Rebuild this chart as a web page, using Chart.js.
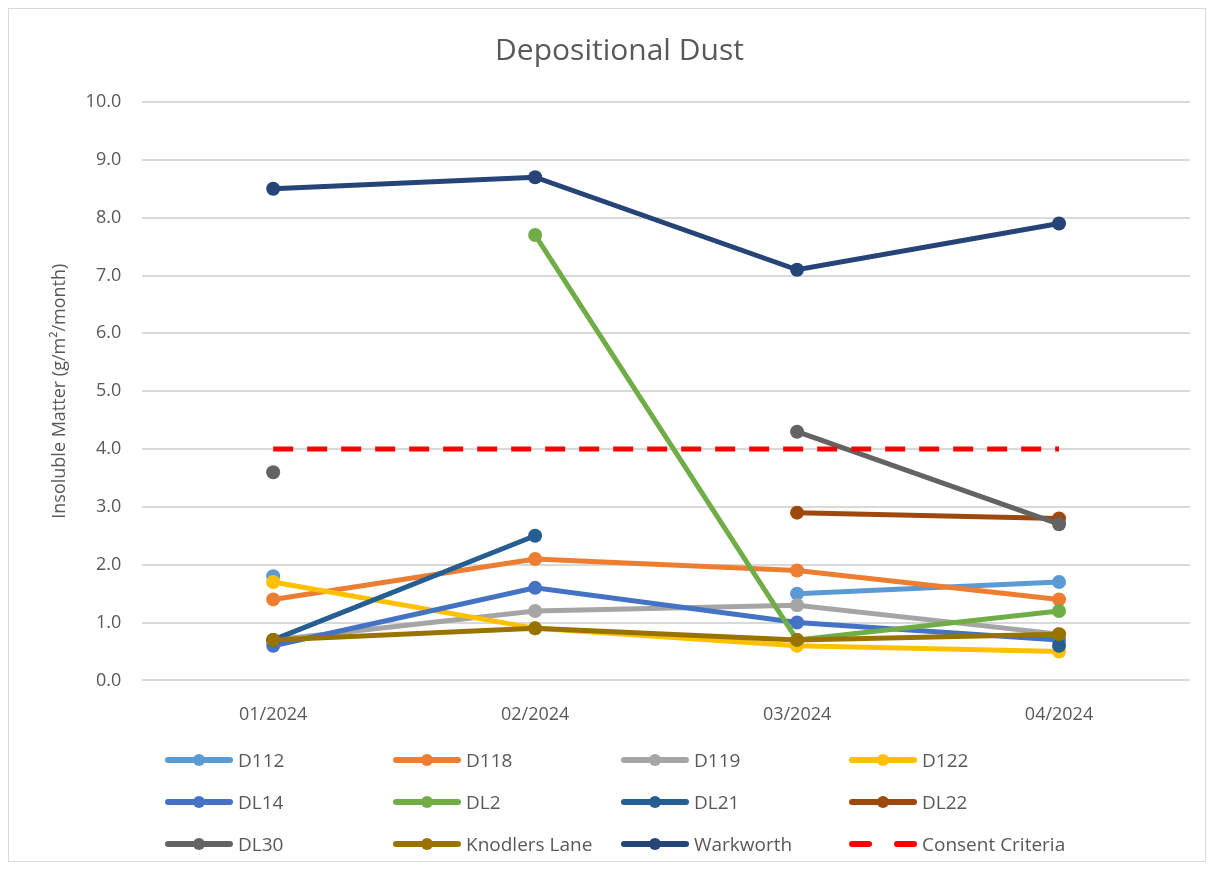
<!DOCTYPE html>
<html>
<head>
<meta charset="utf-8">
<script src="https://cdn.jsdelivr.net/npm/chart.js@4"></script>
<style>
  html, body { margin: 0; padding: 0; background: #fff; }
  #frame { position: absolute; left: 8px; top: 8px; width: 1198px; height: 854px; border: 1px solid #d9d9d9; box-sizing: border-box; }
  #wrap { position: absolute; left: 0; top: 0; width: 1214px; height: 871px; }
  #legend { position: absolute; left: 165px; top: 746px; width: 960px; font-family: "Open Sans", sans-serif; font-size: 19px; color: #595959; }
  .item { position: absolute; height: 28px; display: flex; align-items: center; white-space: nowrap; }
  .swatch { position: relative; width: 68px; height: 28px; margin-right: 5px; }
</style>
</head>
<body>
<div id="frame"></div>
<div id="wrap"><canvas id="chart" width="1214" height="871"></canvas></div>
<div id="legend"></div>
<script>
// Monthly depositional dust, insoluble matter in g/m2/month
const months = ["01/2024", "02/2024", "03/2024", "04/2024"];
const yTicks = [0, 1, 2, 3, 4, 5, 6, 7, 8, 9, 10];

const d112 = [1.8, null, 1.5, 1.7];
const d118 = [1.4, 2.1, 1.9, 1.4];
const d119 = [0.7, 1.2, 1.3, 0.8];
const d122 = [1.7, 0.9, 0.6, 0.5];
const dl14 = [0.6, 1.6, 1.0, 0.7];
const dl2 = [null, 7.7, 0.7, 1.2];
const dl21 = [0.7, 2.5, null, 0.6];
const dl22 = [null, null, 2.9, 2.8];
const dl30 = [3.6, null, 4.3, 2.7];
const knodlers = [0.7, 0.9, 0.7, 0.8];
const warkworth = [8.5, 8.7, 7.1, 7.9];
const consent = [4, 4, 4, 4];

const series = [
    { label: "D112", data: d112, color: "#5b9bd5" },
    { label: "D118", data: d118, color: "#ed7d31" },
    { label: "D119", data: d119, color: "#a5a5a5" },
    { label: "D122", data: d122, color: "#ffc000" },
    { label: "DL14", data: dl14, color: "#4472c4" },
    { label: "DL2", data: dl2, color: "#70ad47" },
    { label: "DL21", data: dl21, color: "#255e91" },
    { label: "DL22", data: dl22, color: "#9e480e" },
    { label: "DL30", data: dl30, color: "#636363" },
    { label: "Knodlers Lane", data: knodlers, color: "#997300" },
    { label: "Warkworth", data: warkworth, color: "#264478" },
];

const FONT = "'Open Sans', sans-serif";
const TEXT = "#595959";

const datasets = series.map(s => ({
    label: s.label,
    data: s.data,
    borderColor: s.color,
    backgroundColor: s.color,
    borderWidth: 5,
    pointRadius: 7,
    pointHoverRadius: 7,
    pointBorderWidth: 0,
    spanGaps: false,
}));
datasets.push({
    label: "Consent Criteria",
    data: consent,
    borderColor: "#ff0000",
    backgroundColor: "#ff0000",
    borderWidth: 5,
    borderDash: [20, 14],
    pointRadius: 0,
    pointHoverRadius: 0,
});

// later series are painted on top, like Excel
datasets.forEach((d, i) => { d.order = datasets.length - i; });

new Chart(document.getElementById("chart"), {
    type: "line",
    data: { labels: months, datasets: datasets },
    options: {
        responsive: false,
        animation: false,
        layout: { padding: { left: 49, right: 24, top: 33, bottom: 121 } },
        plugins: {
            legend: { display: false },
            tooltip: { enabled: false },
            title: {
                display: true,
                text: "Depositional Dust",
                color: TEXT,
                font: { family: FONT, size: 30, weight: "normal" },
                padding: { top: 0, bottom: 33 },
            },
        },
        scales: {
            x: {
                offset: true,
                grid: { display: false, drawTicks: false },
                border: { display: false },
                ticks: { color: TEXT, font: { family: FONT, size: 18 }, padding: 24 },
            },
            y: {
                min: 0,
                max: 10,
                afterBuildTicks: axis => { axis.ticks = yTicks.map(v => ({ value: v })); },
                grid: { color: "#d9d9d9", lineWidth: 2, drawTicks: false },
                border: { display: false },
                ticks: {
                    color: TEXT,
                    font: { family: FONT, size: 18 },
                    padding: 21,
                    callback: v => v.toFixed(1),
                },
                title: {
                    display: true,
                    text: "Insoluble Matter (g/m\u00b2/month)",
                    color: TEXT,
                    font: { family: FONT, size: 18 },
                    padding: { top: 0, bottom: -6 },
                },
            },
        },
    },
});

// legend laid out in 4 columns like the Excel original
const legend = document.getElementById("legend");
datasets.forEach((d, i) => {
    const col = i % 4, row = Math.floor(i / 4);
    const item = document.createElement("div");
    item.className = "item";
    item.style.left = (col * 228) + "px";
    item.style.top = (row * 42) + "px";
    const sw = document.createElement("div");
    sw.className = "swatch";
    if (d.borderDash) {
        sw.innerHTML =
            '<div style="position:absolute;left:0;top:11px;width:23px;height:6px;border-radius:3px;background:' + d.borderColor + '"></div>' +
            '<div style="position:absolute;left:45px;top:11px;width:23px;height:6px;border-radius:3px;background:' + d.borderColor + '"></div>';
    } else {
        sw.innerHTML =
            '<div style="position:absolute;left:0;top:11px;width:68px;height:6px;border-radius:3px;background:' + d.borderColor + '"></div>' +
            '<div style="position:absolute;left:28px;top:8px;width:12px;height:12px;border-radius:50%;background:' + d.borderColor + '"></div>';
    }
    const txt = document.createElement("span");
    txt.textContent = d.label;
    item.appendChild(sw);
    item.appendChild(txt);
    legend.appendChild(item);
});
</script>
</body>
</html>
